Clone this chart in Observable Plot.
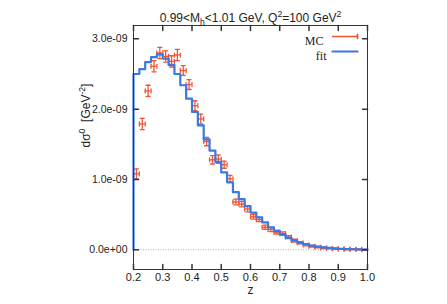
<!DOCTYPE html>
<html><head><meta charset="utf-8">
<script src="https://cdn.jsdelivr.net/npm/d3@7"></script>
<script src="https://cdn.jsdelivr.net/npm/@observablehq/plot@0.6"></script>
<style>body{margin:0;background:#fff;} #chart svg{display:block;}</style>
</head><body><div id="chart"></div>
<script>
// ---- data (values in units of 1e-9 GeV^-2) ----
const unit = 1e-9;
const fitBinLeft = [0.20,0.22,0.24,0.26,0.28,0.30,0.32,0.34,0.36,0.38,0.40,0.42,0.44,0.46,0.48,0.50,0.52,0.54,0.56,0.58,0.60,0.62,0.64,0.66,0.68,0.70,0.72,0.74,0.76,0.78,0.80,0.82,0.84,0.86,0.88,0.90,0.92,0.94,0.96,0.98];
const fitValues = [2.50,2.57,2.67,2.74,2.78,2.72,2.63,2.50,2.34,2.15,1.96,1.77,1.57,1.41,1.25,1.10,0.96,0.82,0.72,0.62,0.53,0.46,0.39,0.32,0.27,0.22,0.17,0.13,0.10,0.08,0.06,0.045,0.035,0.027,0.02,0.015,0.011,0.008,0.005,0.003];
const mcZ = [0.21,0.23,0.25,0.27,0.29,0.31,0.33,0.35,0.37,0.39,0.41,0.43,0.45,0.47,0.49,0.51,0.53,0.55,0.57,0.59,0.61,0.63,0.65,0.67,0.69,0.71,0.73,0.75,0.77,0.79,0.81,0.83,0.85,0.87,0.89,0.91,0.93,0.95,0.97,0.99];
const mcValues = [1.08,1.79,2.26,2.61,2.80,2.75,2.68,2.77,2.55,2.35,2.05,1.86,1.54,1.28,1.29,1.21,1.01,0.68,0.65,0.58,0.47,0.43,0.32,0.29,0.25,0.23,0.18,0.13,0.10,0.07,0.05,0.037,0.028,0.02,0.015,0.012,0.009,0.007,0.005,0.003];
const mcErr = [0.07,0.08,0.08,0.08,0.08,0.08,0.08,0.08,0.07,0.07,0.07,0.07,0.06,0.06,0.06,0.05,0.05,0.04,0.04,0.04,0.035,0.03,0.03,0.03,0.025,0.025,0.02,0.02,0.015,0.015,0.012,0.01,0.01,0.008,0.008,0.006,0.006,0.005,0.005,0.004];
const mcHalfWidth = 0.01;
const xTicks = [0.2,0.3,0.4,0.5,0.6,0.7,0.8,0.9,1.0];
const yTicks = [0, 1, 2, 3];
const titleParts = [["0.99<M",null],["h","sub"],["<1.01 GeV, Q",null],["2","sup"],["=100 GeV",null],["2","sup"]];
const yLabelParts = [["dσ",null],["0","sup"],["  [GeV",null],["-2","sup"],["]",null]];
const xLabel = "z";
const legendLabels = ["MC","fit"];

// ---- styles ----
const RED = "#ee5535", BLUE = "#3a78e4", FRAME = "#333";
const sans = "'Liberation Sans', Arial, Helvetica, sans-serif";
const serif = "'Liberation Serif', 'Times New Roman', serif";

const fitPts = [{z: fitBinLeft[0], v: 0}];
fitBinLeft.forEach((e, i) => fitPts.push({z: e, v: fitValues[i] * unit}));
fitPts.push({z: 1.0, v: fitValues[fitValues.length - 1] * unit});
const mc = mcZ.map((z, i) => ({z, v: mcValues[i] * unit, e: mcErr[i] * unit}));

const seg = {draw(ctx, l) { ctx.moveTo(0, 0); ctx.lineTo(0, -l); }};
const expFmt = d => { const s = d.toExponential(1); const [m, ex] = s.split("e"); const sign = ex[0] === "-" ? "-" : "+"; const n = ex.replace(/[+-]/, ""); return m + "e" + sign + n.padStart(2, "0"); };

const chart = Plot.plot({
  width: 447, height: 304,
  marginTop: 25, marginRight: 80, marginBottom: 35, marginLeft: 133,
  style: {fontFamily: sans, background: "#fff"},
  x: {domain: [0.2, 1.0]},
  y: {domain: [-0.28e-9, 3.19e-9]},
  marks: [
    Plot.ruleY([0], {stroke: "#999", strokeWidth: 0.8, strokeDasharray: "1,1.5"}),
    // MC error crosses
    Plot.ruleY(mc, {y: "v", x1: d => d.z - mcHalfWidth, x2: d => d.z + mcHalfWidth, stroke: RED, strokeWidth: 1.3}),
    Plot.ruleX(mc, {x: "z", y1: d => d.v - d.e, y2: d => d.v + d.e, stroke: RED, strokeWidth: 1.3}),
    Plot.vector(mc, {x: "z", y: d => d.v - d.e, length: 4, rotate: 90, anchor: "middle", shape: seg, stroke: RED, strokeWidth: 1.3}),
    Plot.vector(mc, {x: "z", y: d => d.v + d.e, length: 4, rotate: 90, anchor: "middle", shape: seg, stroke: RED, strokeWidth: 1.3}),
    Plot.vector(mc, {x: d => d.z - mcHalfWidth, y: "v", length: 4, rotate: 0, anchor: "middle", shape: seg, stroke: RED, strokeWidth: 1.3}),
    Plot.vector(mc, {x: d => d.z + mcHalfWidth, y: "v", length: 4, rotate: 0, anchor: "middle", shape: seg, stroke: RED, strokeWidth: 1.3}),
    // fit histogram
    Plot.line(fitPts, {x: "z", y: "v", curve: "step-after", stroke: BLUE, strokeWidth: 2.2}),
    // frame and inward ticks
    Plot.frame({stroke: FRAME, strokeWidth: 1}),
    Plot.vector(xTicks, {x: d => d, frameAnchor: "bottom", length: 5, rotate: 0, anchor: "start", shape: seg, stroke: FRAME}),
    Plot.vector(xTicks, {x: d => d, frameAnchor: "top", length: 5, rotate: 180, anchor: "start", shape: seg, stroke: FRAME}),
    Plot.vector(yTicks, {y: d => d * unit, frameAnchor: "left", length: 5, rotate: 90, anchor: "start", shape: seg, stroke: FRAME}),
    Plot.vector(yTicks, {y: d => d * unit, frameAnchor: "right", length: 5, rotate: -90, anchor: "start", shape: seg, stroke: FRAME}),
    Plot.axisX(xTicks, {tickSize: 0, tickPadding: 4, tickFormat: d3.format(".1f"), fontSize: 11, label: null, fill: "#222"}),
    Plot.axisY(yTicks.map(d => d * unit), {tickSize: 0, tickPadding: 6, tickFormat: expFmt, fontSize: 10.5, label: null, fill: "#222"}),
    Plot.text([xLabel], {frameAnchor: "bottom", dy: 24, fontSize: 12, fill: "#222"}),
    Plot.text(["YLABEL"], {frameAnchor: "left", dx: -47, rotate: -90, fontSize: 12, fill: "#222"}),
    Plot.text(["TITLE"], {frameAnchor: "top", dy: -12, fontSize: 12, fill: "#222"}),
    // legend
    Plot.text([legendLabels[0]], {frameAnchor: "top-right", dx: -44, dy: 11, textAnchor: "end", fontFamily: serif, fontSize: 12, fill: "#222"}),
    Plot.text([legendLabels[1]], {frameAnchor: "top-right", dx: -41, dy: 26, textAnchor: "end", fontFamily: serif, fontSize: 12, fill: "#222"}),
    Plot.vector([0], {frameAnchor: "top-right", dx: -10, dy: 11, length: 25, rotate: -90, anchor: "start", shape: seg, stroke: RED, strokeWidth: 1.3}),
    Plot.vector([-10, -22.5, -35], {frameAnchor: "top-right", dx: -10, dy: 11, length: 4, rotate: 0, anchor: "middle", shape: seg, stroke: RED, strokeWidth: 1.3}),
    Plot.vector([0], {frameAnchor: "top-right", dx: -10, dy: 26, length: 25, rotate: -90, anchor: "start", shape: seg, stroke: BLUE, strokeWidth: 2.2})
  ]
});
document.getElementById("chart").append(chart);

function setRich(node, parts, fs) {
  const t = d3.select(node); t.text(null);
  let cur = 0;
  for (const [s, kind] of parts) {
    const target = kind === "sup" ? -0.42 * fs : kind === "sub" ? 0.28 * fs : 0;
    t.append("tspan").attr("dy", target - cur).attr("font-size", kind ? 0.72 * fs : fs).text(s);
    cur = target;
  }
}
d3.select(chart).selectAll("text").each(function() {
  const s = this.textContent;
  if (s === "TITLE") setRich(this, titleParts, 12);
  else if (s === "YLABEL") setRich(this, yLabelParts, 12);
});
</script>
</body></html>
